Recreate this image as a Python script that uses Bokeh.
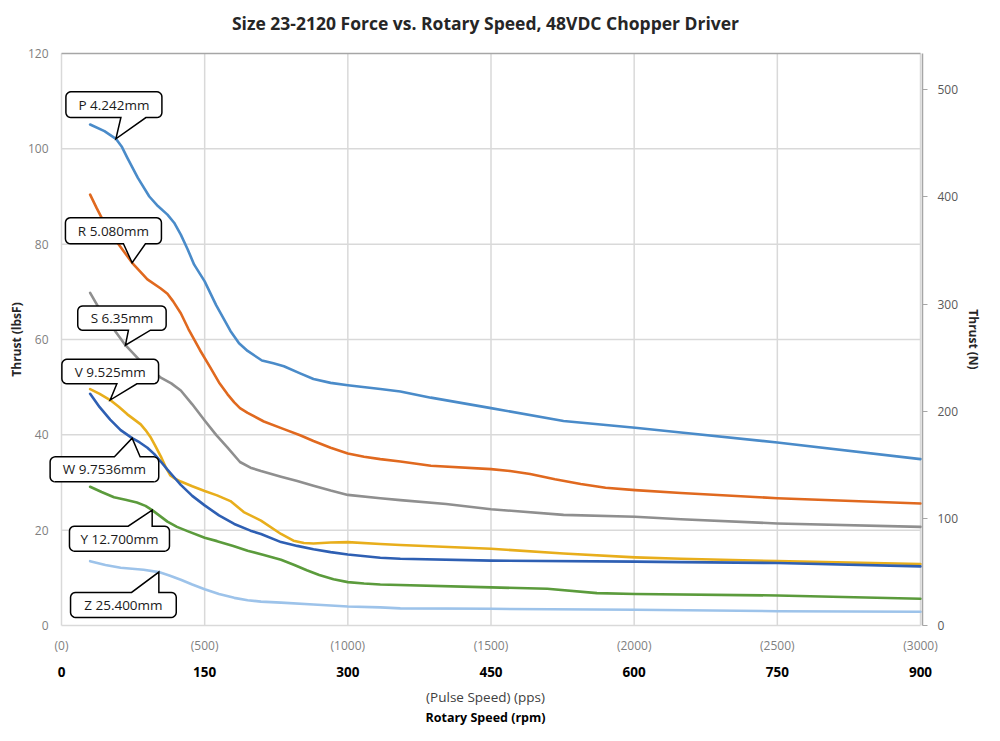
import math

from bokeh.plotting import figure
from bokeh.models import (LinearAxis, Range1d, FixedTicker, ColumnDataSource)
from bokeh.core.properties import value
from bokeh.embed import file_html
from bokeh.resources import INLINE

# ---------------------------------------------------------------- data
# Thrust (lbsF) against rotary speed (rpm) for each lead screw pitch
p_rpm = [30, 45, 57, 63, 69, 80, 92, 101, 111, 118, 125, 132, 139, 150, 162, 177, 186, 195, 210, 222, 233, 250, 264, 282, 300, 334, 355, 387, 450, 526, 601, 649, 750, 900]
p_lbf = [105.1, 103.7, 102.1, 100.5, 98.1, 93.9, 90.0, 88.0, 86.2, 84.5, 82.0, 79.0, 75.7, 72.2, 67.2, 61.8, 59.2, 57.6, 55.6, 55.0, 54.4, 52.9, 51.7, 50.9, 50.4, 49.6, 49.1, 47.8, 45.6, 42.9, 41.5, 40.5, 38.4, 34.9]

r_rpm = [30, 37, 44, 59, 74, 90, 104, 111, 117, 125, 133, 145, 156, 165, 174, 181, 187, 195, 212, 233, 250, 264, 282, 300, 317, 334, 355, 387, 450, 470, 491, 517, 544, 570, 601, 649, 750, 900]
r_lbf = [90.4, 87.5, 84.8, 80.2, 76.1, 72.6, 70.7, 69.6, 68.0, 65.5, 62.2, 57.8, 54.1, 51.0, 48.5, 46.8, 45.6, 44.6, 42.8, 41.2, 39.9, 38.7, 37.3, 36.1, 35.4, 34.9, 34.4, 33.5, 32.8, 32.4, 31.8, 30.7, 29.7, 28.9, 28.4, 27.8, 26.7, 25.6]

s_rpm = [30, 40, 51, 67, 86, 104, 115, 125, 137, 150, 162, 174, 187, 198, 209, 230, 247, 264, 282, 300, 334, 355, 403, 450, 526, 601, 649, 750, 900]
s_lbf = [69.8, 66.3, 63.2, 58.8, 54.8, 52.0, 50.8, 49.3, 46.4, 43.0, 40.0, 37.3, 34.3, 33.1, 32.4, 31.2, 30.3, 29.3, 28.3, 27.4, 26.7, 26.3, 25.5, 24.4, 23.2, 22.8, 22.3, 21.4, 20.7]

v_rpm = [30, 40, 51, 60, 69, 83, 88, 93, 98, 104, 109, 114, 119, 125, 137, 150, 163, 177, 191, 209, 230, 243, 254, 264, 282, 300, 334, 355, 450, 526, 601, 649, 750, 900]
v_lbf = [49.6, 48.6, 47.3, 45.9, 44.3, 42.2, 41.0, 39.6, 37.8, 35.5, 33.3, 31.5, 30.8, 30.2, 29.2, 28.2, 27.3, 26.1, 23.8, 22.0, 19.2, 17.8, 17.3, 17.2, 17.4, 17.5, 17.1, 16.9, 16.1, 15.1, 14.3, 14.0, 13.5, 12.9]

w_rpm = [30, 40, 51, 62, 74, 82, 90, 97, 104, 111, 118, 125, 137, 150, 165, 181, 198, 209, 230, 247, 264, 282, 300, 334, 355, 450, 601, 649, 750, 900]
w_lbf = [48.6, 45.8, 43.2, 41.0, 39.3, 38.4, 37.3, 36.0, 34.4, 32.7, 31.1, 29.5, 27.2, 25.2, 23.1, 21.3, 19.9, 19.2, 17.5, 16.7, 16.0, 15.4, 14.9, 14.2, 14.0, 13.6, 13.4, 13.3, 13.1, 12.4]

y_rpm = [30, 42, 55, 67, 79, 88, 95, 103, 111, 121, 132, 150, 163, 180, 195, 212, 230, 244, 257, 270, 285, 300, 317, 334, 450, 509, 561, 601, 750, 900]
y_lbf = [29.1, 28.0, 26.9, 26.4, 25.8, 25.1, 24.2, 23.0, 21.8, 20.7, 19.8, 18.4, 17.7, 16.7, 15.7, 14.8, 13.8, 12.7, 11.6, 10.6, 9.7, 9.1, 8.8, 8.6, 8.0, 7.7, 6.8, 6.6, 6.3, 5.6]

z_rpm = [30, 46, 62, 74, 86, 102, 113, 125, 137, 150, 165, 181, 195, 209, 230, 264, 300, 334, 355, 450, 601, 750, 900]
z_lbf = [13.5, 12.7, 12.1, 11.9, 11.7, 11.2, 10.5, 9.6, 8.6, 7.6, 6.6, 5.8, 5.3, 5.0, 4.8, 4.4, 4.0, 3.8, 3.6, 3.5, 3.3, 3.0, 2.9]

series_labels = ["P 4.242mm", "R 5.080mm", "S 6.35mm", "V 9.525mm", "W 9.7536mm", "Y 12.700mm", "Z 25.400mm"]
series_rpm = [p_rpm, r_rpm, s_rpm, v_rpm, w_rpm, y_rpm, z_rpm]
series_lbf = [p_lbf, r_lbf, s_lbf, v_lbf, w_lbf, y_lbf, z_lbf]
# rpm of the point each callout points at
callout_rpm = [57, 74, 67, 51, 74, 95, 102]

rpm_ticks = [0, 150, 300, 450, 600, 750, 900]
pps_labels = ["(0)", "(500)", "(1000)", "(1500)", "(2000)", "(2500)", "(3000)"]
lbf_ticks = [0, 20, 40, 60, 80, 100, 120]
newton_ticks = [0, 100, 200, 300, 400, 500]
LBF_TO_N = 4.44822

TITLE = "Size 23-2120 Force vs. Rotary Speed, 48VDC Chopper Driver"

# ---------------------------------------------------------------- styling
colors = ["#4a8bc9", "#e0691f", "#8f8f8f", "#e8ae1c", "#2e5fb3", "#5b9b3c", "#9dc3ea"]
FONT = "Open Sans"
X_MAX, Y_MAX = 900, 120
PLOT_W, PLOT_H = 859, 572          # pixel size of the 0..900 x 0..120 area
SX = X_MAX / PLOT_W                # data units per screen pixel
SY = Y_MAX / PLOT_H
# extra room around the plotted area so callouts and edge lines are not clipped
PAD_L, PAD_R, PAD_T, PAD_B = 13, 2, 10, 10

# callout boxes in screen pixels relative to the pointer tip:
# (left, right, top, bottom, pointer base left, pointer base right); y grows downward
callout_boxes = [
    (-50, 46, -47, -21.3, 5, 30),
    (-66.7, 29.3, -45, -19, -8.7, 13.3),
    (-47.7, 40.7, -39.3, -15, 3, 25),
    (-48.3, 48.4, -40.7, -16.3, 6.7, 26.7),
    (-82, 26.6, 18.7, 43.7, -17.7, 8),
    (-82.7, 17.3, 16, 41, -24, 0),
    (-88.3, 17.4, 20.3, 45.3, -27.3, 0),
]

p = figure(
    frame_width=PLOT_W + PAD_L + PAD_R, frame_height=PLOT_H + PAD_T + PAD_B,
    x_range=Range1d(-PAD_L * SX, X_MAX + PAD_R * SX),
    y_range=Range1d(-PAD_B * SY, Y_MAX + PAD_T * SY),
    output_backend="svg", toolbar_location=None,
    min_border_left=61 - PAD_L, min_border_right=80 - PAD_R,
    min_border_top=53 - PAD_T, min_border_bottom=116 - PAD_B,
    x_axis_location=None, y_axis_location=None,
)
p.outline_line_color = None
p.background_fill_color = "white"
p.border_fill_color = "white"
p.grid.visible = False

# chart title, carried by a tick-less axis above the plot
ttl = LinearAxis(ticker=FixedTicker(ticks=[]), axis_label=TITLE, bounds=(0, X_MAX))
ttl.axis_line_color = None
ttl.major_tick_line_color = None
ttl.major_tick_out = 0
ttl.major_tick_in = 0
ttl.minor_tick_line_color = None
ttl.major_label_standoff = 0
ttl.axis_label_standoff = 9
ttl.axis_label_text_font = FONT
ttl.axis_label_text_font_size = "17.5px"
ttl.axis_label_text_font_style = "bold"
ttl.axis_label_text_color = "#262626"
p.add_layout(ttl, "above")

# left axis, lbsF
yl = LinearAxis(ticker=FixedTicker(ticks=lbf_ticks), axis_label="Thrust (lbsF)", bounds=(0, Y_MAX))
yl.axis_line_color = None
yl.major_tick_line_color = None
yl.major_tick_out = 0
yl.major_tick_in = 0
yl.minor_tick_line_color = None
yl.major_label_text_font = FONT
yl.major_label_text_font_size = "12px"
yl.major_label_text_color = "#7f7f7f"
yl.major_label_standoff = 0
yl.axis_label_text_font = FONT
yl.axis_label_text_font_size = "12px"
yl.axis_label_text_font_style = "bold"
yl.axis_label_text_color = "#262626"
yl.axis_label_standoff = 0
p.add_layout(yl, "left")

# right axis, Newtons
p.extra_y_ranges = {"newton": Range1d(-PAD_B * SY * LBF_TO_N, (Y_MAX + PAD_T * SY) * LBF_TO_N)}
yr = LinearAxis(y_range_name="newton", ticker=FixedTicker(ticks=newton_ticks), axis_label="Thrust (N)",
                bounds=(0, Y_MAX * LBF_TO_N))
yr.axis_line_color = "#a6a6a6"
yr.axis_line_width = 1.5
yr.major_tick_line_color = "#a6a6a6"
yr.major_tick_out = 5
yr.major_tick_in = 0
yr.minor_tick_line_color = None
yr.major_label_text_font = FONT
yr.major_label_text_font_size = "12px"
yr.major_label_text_color = "#595959"
yr.major_label_standoff = 10
yr.axis_label_text_font = FONT
yr.axis_label_text_font_size = "12px"
yr.axis_label_text_font_style = "bold"
yr.axis_label_text_color = "#262626"
yr.axis_label_standoff = 4
p.add_layout(yr, "right")

# bottom axes: pulse speed row, rpm row, then the rotary speed title
xp = LinearAxis(ticker=FixedTicker(ticks=rpm_ticks), bounds=(0, X_MAX),
                major_label_overrides={t: s for t, s in zip(rpm_ticks, pps_labels)})
xp.axis_line_color = None
xp.major_tick_line_color = None
xp.major_tick_out = 0
xp.major_tick_in = 0
xp.minor_tick_line_color = None
xp.major_label_text_font = FONT
xp.major_label_text_font_size = "12px"
xp.major_label_text_color = "#7f7f7f"
xp.major_label_standoff = 1
p.add_layout(xp, "below")

xr = LinearAxis(ticker=FixedTicker(ticks=rpm_ticks), axis_label="(Pulse Speed) (pps)", bounds=(0, X_MAX))
xr.axis_line_color = None
xr.major_tick_line_color = None
xr.major_tick_out = 0
xr.major_tick_in = 0
xr.minor_tick_line_color = None
xr.major_label_text_font = FONT
xr.major_label_text_font_size = "13.5px"
xr.major_label_text_font_style = "bold"
xr.major_label_text_color = "#000000"
xr.major_label_standoff = 10
xr.axis_label_text_font = FONT
xr.axis_label_text_font_size = "13.5px"
xr.axis_label_text_font_style = "normal"
xr.axis_label_text_color = "#404040"
xr.axis_label_standoff = 8
p.add_layout(xr, "below")

xt = LinearAxis(ticker=FixedTicker(ticks=[]), axis_label="Rotary Speed (rpm)", bounds=(0, X_MAX))
xt.axis_line_color = None
xt.major_tick_line_color = None
xt.major_tick_out = 0
xt.major_tick_in = 0
xt.minor_tick_line_color = None
xt.major_label_standoff = 0
xt.axis_label_standoff = 0
xt.axis_label_text_font = FONT
xt.axis_label_text_font_size = "12.5px"
xt.axis_label_text_font_style = "bold"
xt.axis_label_text_color = "#000000"
p.add_layout(xt, "below")

# grid lines over the 0..900 rpm x 0..120 lbsF area
p.segment(x0=rpm_ticks, y0=[0] * len(rpm_ticks), x1=rpm_ticks, y1=[Y_MAX] * len(rpm_ticks),
          line_color="#d9d9d9", line_width=1.5)
p.segment(x0=[0] * len(lbf_ticks), y0=lbf_ticks, x1=[X_MAX] * len(lbf_ticks), y1=lbf_ticks,
          line_color=["#a6a6a6" if t == Y_MAX else "#d9d9d9" for t in lbf_ticks], line_width=1.5)

# curves
for rpm, lbf, col in zip(series_rpm, series_lbf, colors):
    p.line(rpm, lbf, line_color=col, line_width=2.6, line_join="round", line_cap="round")


# callouts: rounded box with a pointer that ends on the curve
def rounded_callout(box, r=5.0, n=5):
    left, right, top, bottom, bl, br = box
    pts = []

    def arc(cx, cy, a0, a1):
        for k in range(n + 1):
            a = math.radians(a0 + (a1 - a0) * k / n)
            pts.append((cx + r * math.cos(a), cy + r * math.sin(a)))

    # top edge, left to right
    arc(left + r, top + r, 180, 270)
    if top > 0:
        pts += [(bl, top), (0.0, 0.0), (br, top)]
    arc(right - r, top + r, 270, 360)
    arc(right - r, bottom - r, 0, 90)
    if bottom < 0:
        pts += [(br, bottom), (0.0, 0.0), (bl, bottom)]
    arc(left + r, bottom - r, 90, 180)
    return pts


xs_all, ys_all, tx, ty = [], [], [], []
for rpm, lbf, anchor, box in zip(series_rpm, series_lbf, callout_rpm, callout_boxes):
    ax = anchor
    ay = lbf[rpm.index(anchor)]
    pts = rounded_callout(box)
    xs_all.append([ax + dx * SX for dx, dy in pts])
    ys_all.append([ay - dy * SY for dx, dy in pts])
    left, right, top, bottom = box[:4]
    tx.append(ax + (left + right) / 2 * SX)
    ty.append(ay - (top + bottom) / 2 * SY)

p.patches(xs_all, ys_all, fill_color="white", line_color="#000000", line_width=1.5, line_join="miter")

src = ColumnDataSource(dict(x=tx, y=ty, text=series_labels))
p.text(x="x", y="y", text="text", source=src, text_align="center", text_baseline="middle",
       text_font=value(FONT), text_font_size="13.5px", text_color="#1a1a1a")

open("out.html", "w").write(file_html(p, INLINE))
